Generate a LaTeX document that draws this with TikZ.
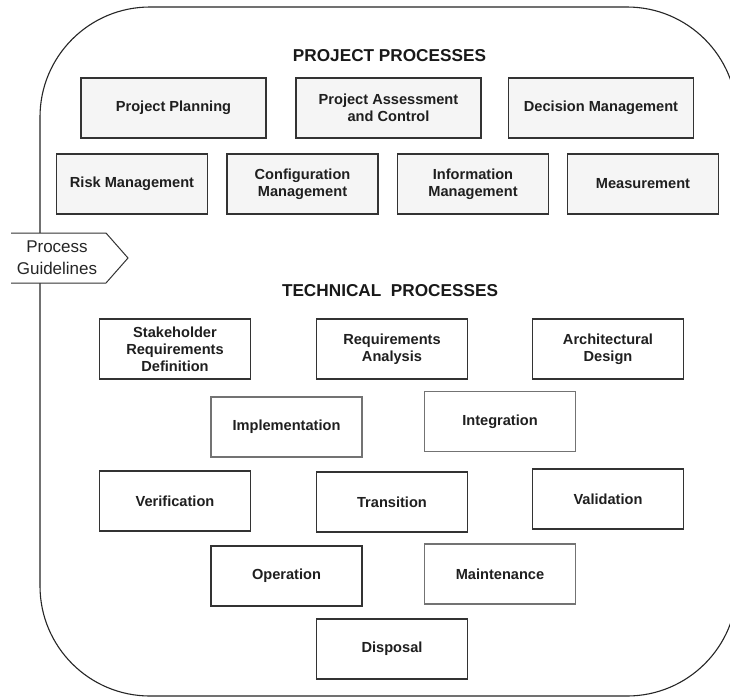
\documentclass[tikz,border=0pt]{standalone}
\usepackage{fontspec}
\setmainfont{Liberation Sans}
\begin{document}
\begin{tikzpicture}[x=1pt,y=-1pt,
  every node/.style={inner sep=0pt, outer sep=0pt},
  boxtext/.style={font=\fontsize{14.6}{17}\selectfont\bfseries, text=black!88, align=center},
  pbox/.style={boxtext, draw=black!80, line width=1.1pt, fill=black!4},
  tbox/.style={boxtext, draw=black!80, line width=1.1pt, fill=white},
  lbox/.style={tbox, draw=black!55},
  heading/.style={font=\fontsize{17.2}{20}\selectfont\bfseries, text=black!90},
  wA/.style={minimum width=185pt, minimum height=60pt},
  wB/.style={minimum width=151pt, minimum height=60pt}]
\useasboundingbox (0,0) rectangle (730,697);
\fill[white] (0,0) rectangle (730,697);
% outer container
\draw[line width=1.1pt, black!85, rounded corners=110pt] (40,7) rectangle (737,696);
% process guidelines tag
\fill[white] (11,233) -- (106,233) -- (128,258) -- (106,283) -- (11,283) -- cycle;
\draw[line width=1pt, black!80] (11,233) -- (106,233) -- (128,258) -- (106,283) -- (11,283);
\node[font=\fontsize{17}{22}\selectfont, align=center, text=black!85] (pg) at (57,258) {Process\\Guidelines};
% headings
\node[heading] (hp) at (389.5,55.5) {PROJECT PROCESSES};
\node[heading] (ht) at (390,291) {TECHNICAL\ \ PROCESSES};
% project processes
\node[pbox, wA] (pp) at (173.5,108) {Project Planning};
\node[pbox, wA] (pac) at (388.5,108) {Project Assessment\\and Control};
\node[pbox, wA] (dm) at (601,108) {Decision Management};
\node[pbox, wB] (rm) at (132,184) {Risk Management};
\node[pbox, wB] (cm) at (302.5,184) {Configuration\\Management};
\node[pbox, wB] (im) at (473,184) {Information\\Management};
\node[pbox, wB] (me) at (643,184) {Measurement};
% technical processes
\node[tbox, wB] (srd) at (175,349) {Stakeholder\\Requirements\\Definition};
\node[tbox, wB] (ra) at (392,349) {Requirements\\Analysis};
\node[tbox, wB] (ad) at (608,349) {Architectural\\Design};
\node[lbox, wB] (imp) at (286.5,427) {Implementation};
\node[lbox, wB] (int) at (500,421.5) {Integration};
\node[tbox, wB] (ver) at (175,501) {Verification};
\node[tbox, wB] (tra) at (392,502) {Transition};
\node[tbox, wB] (val) at (608,499) {Validation};
\node[tbox, wB] (op) at (286.5,576) {Operation};
\node[lbox, wB] (mai) at (500,574) {Maintenance};
\node[tbox, wB] (dis) at (392,649) {Disposal};
\end{tikzpicture}
\end{document}
